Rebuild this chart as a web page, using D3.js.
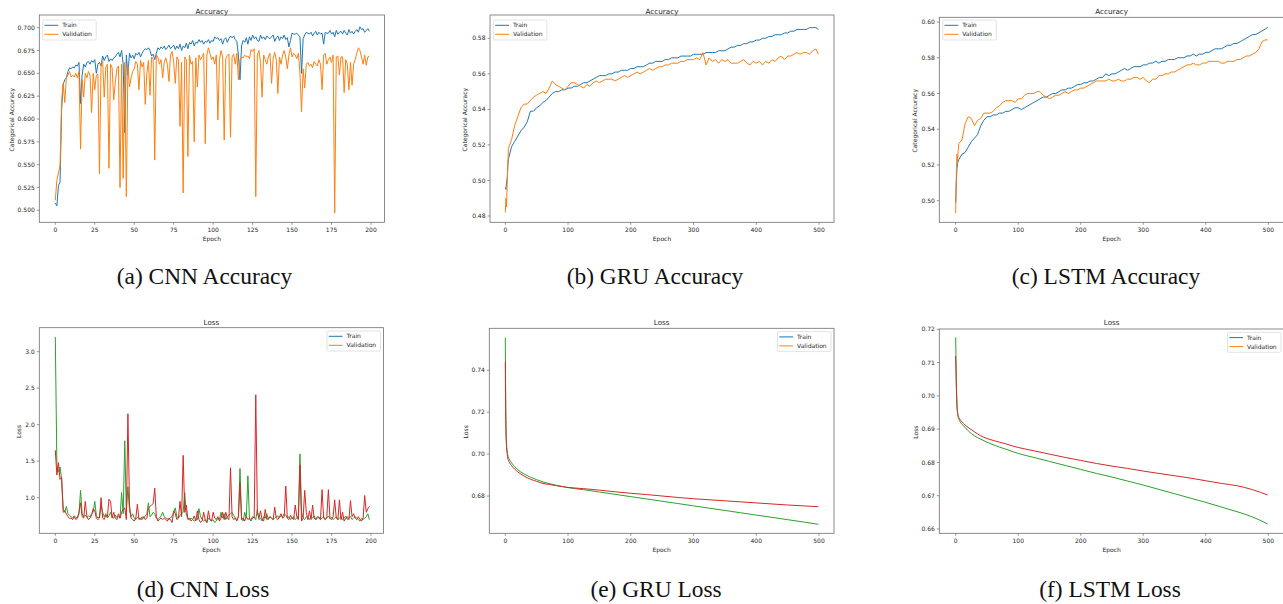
<!DOCTYPE html>
<html>
<head>
<meta charset="utf-8">
<script src="https://d3js.org/d3.v7.min.js"></script>
<style>
    body { margin: 0; background: #fff; }
    svg { display: block; }
</style>
</head>
<body>
<div id="fig"></div>
<script>
// ---- data ----
var cnnEpochs = d3.range(0, 200);
var longEpochs = [0, 1, 2, 3, 4].concat(d3.range(5, 500, 5)).concat([499]);
var lossEpochs = [0, 1, 2, 3, 4, 5, 7, 10, 15, 20, 30, 40, 50, 60, 70, 80, 90, 100,
    125, 150, 175, 200, 225, 250, 275, 300, 325, 350, 375, 400, 425, 450, 475, 499];

var cnnTrainAcc = [
    0.508, 0.505, 0.527, 0.531, 0.610, 0.638, 0.643, 0.645, 0.652, 0.656,
    0.655, 0.657, 0.656, 0.659, 0.658, 0.662, 0.617, 0.648, 0.660, 0.657,
    0.662, 0.663, 0.660, 0.664, 0.662, 0.665, 0.650, 0.660, 0.662, 0.658,
    0.669, 0.664, 0.668, 0.670, 0.663, 0.666, 0.664, 0.667, 0.668, 0.671,
    0.673, 0.668, 0.675, 0.660, 0.585, 0.670, 0.648, 0.672, 0.667, 0.670,
    0.666, 0.672, 0.670, 0.673, 0.668, 0.672, 0.675, 0.677, 0.676, 0.678,
    0.675, 0.669, 0.671, 0.665, 0.672, 0.678, 0.676, 0.679, 0.677, 0.680,
    0.676, 0.678, 0.681, 0.677, 0.679, 0.681, 0.676, 0.680, 0.677, 0.682,
    0.675, 0.680, 0.678, 0.683, 0.677, 0.684, 0.682, 0.686, 0.680, 0.684,
    0.683, 0.687, 0.684, 0.686, 0.682, 0.685, 0.684, 0.687, 0.683, 0.686,
    0.685, 0.690, 0.688, 0.689, 0.686, 0.688, 0.682, 0.687, 0.689, 0.684,
    0.688, 0.691, 0.689, 0.691, 0.687, 0.685, 0.670, 0.643, 0.680, 0.686,
    0.684, 0.689, 0.682, 0.690, 0.686, 0.692, 0.688, 0.690, 0.686, 0.685,
    0.692, 0.688, 0.690, 0.687, 0.691, 0.689, 0.688, 0.690, 0.692, 0.685,
    0.689, 0.691, 0.686, 0.690, 0.688, 0.692, 0.687, 0.689, 0.679, 0.686,
    0.694, 0.693, 0.693, 0.694, 0.692, 0.690, 0.650, 0.688, 0.692, 0.695,
    0.694, 0.693, 0.695, 0.691, 0.694, 0.696, 0.692, 0.695, 0.693, 0.694,
    0.682, 0.695, 0.694, 0.694, 0.697, 0.693, 0.695, 0.690, 0.697, 0.693,
    0.695, 0.696, 0.693, 0.697, 0.694, 0.692, 0.698, 0.694, 0.696, 0.693,
    0.696, 0.698, 0.695, 0.701, 0.698, 0.699, 0.695, 0.697, 0.699, 0.696
];
var cnnValAcc = [
    0.511, 0.533, 0.541, 0.549, 0.620, 0.639, 0.618, 0.645, 0.648, 0.652,
    0.646, 0.648, 0.646, 0.650, 0.645, 0.652, 0.567, 0.643, 0.624, 0.650,
    0.645, 0.652, 0.648, 0.607, 0.650, 0.632, 0.648, 0.649, 0.540, 0.661,
    0.663, 0.624, 0.657, 0.660, 0.546, 0.660, 0.656, 0.621, 0.640, 0.655,
    0.658, 0.525, 0.660, 0.535, 0.662, 0.515, 0.658, 0.635, 0.645, 0.652,
    0.655, 0.663, 0.660, 0.632, 0.664, 0.657, 0.662, 0.616, 0.650, 0.664,
    0.626, 0.668, 0.665, 0.555, 0.670, 0.668, 0.660, 0.665, 0.645, 0.662,
    0.667, 0.660, 0.641, 0.670, 0.674, 0.662, 0.639, 0.668, 0.665, 0.592,
    0.662, 0.519, 0.668, 0.665, 0.559, 0.670, 0.660, 0.663, 0.575, 0.667,
    0.635, 0.670, 0.665, 0.668, 0.672, 0.573, 0.670, 0.678, 0.672, 0.665,
    0.668, 0.660, 0.670, 0.599, 0.665, 0.675, 0.668, 0.577, 0.666, 0.670,
    0.671, 0.580, 0.668, 0.671, 0.660, 0.672, 0.643, 0.665, 0.668, 0.667,
    0.670, 0.668, 0.669, 0.666, 0.676, 0.674, 0.677, 0.515, 0.670, 0.675,
    0.662, 0.624, 0.670, 0.665, 0.660, 0.668, 0.672, 0.639, 0.666, 0.673,
    0.665, 0.628, 0.668, 0.660, 0.670, 0.675, 0.668, 0.655, 0.670, 0.678,
    0.668, 0.672, 0.670, 0.666, 0.672, 0.650, 0.608, 0.655, 0.634, 0.660,
    0.662, 0.658, 0.660, 0.656, 0.663, 0.660, 0.658, 0.665, 0.660, 0.632,
    0.670, 0.672, 0.660, 0.665, 0.668, 0.662, 0.670, 0.497, 0.668, 0.669,
    0.648, 0.668, 0.668, 0.629, 0.665, 0.660, 0.632, 0.662, 0.637, 0.660,
    0.665, 0.672, 0.678, 0.675, 0.668, 0.660, 0.670, 0.659, 0.668, 0.669
];

var gruTrainAcc = [
    0.496, 0.495, 0.499, 0.501, 0.508,
    0.512, 0.519, 0.522, 0.525, 0.528, 0.530, 0.533, 0.539, 0.539, 0.541,
    0.542, 0.544, 0.545, 0.547, 0.549, 0.550, 0.550, 0.551, 0.551, 0.552,
    0.552, 0.553, 0.553, 0.554, 0.555, 0.555, 0.556, 0.557, 0.558, 0.559,
    0.559, 0.559, 0.560, 0.560, 0.561, 0.561, 0.562, 0.562, 0.562, 0.563,
    0.563, 0.564, 0.564, 0.564, 0.565, 0.566, 0.566, 0.567, 0.567, 0.567,
    0.568, 0.568, 0.569, 0.569, 0.569, 0.570, 0.570, 0.570, 0.570, 0.571,
    0.571, 0.571, 0.571, 0.572, 0.572, 0.572, 0.572, 0.573, 0.573, 0.573,
    0.574, 0.575, 0.575, 0.576, 0.576, 0.577, 0.577, 0.578, 0.578, 0.579,
    0.579, 0.580, 0.580, 0.581, 0.581, 0.582, 0.582, 0.582, 0.583, 0.583,
    0.584, 0.584, 0.585, 0.585, 0.585, 0.585, 0.586, 0.586, 0.586,
    0.585
];
var gruValAcc = [
    0.482, 0.490, 0.485, 0.498, 0.508,
    0.518, 0.523, 0.531, 0.536, 0.541, 0.543, 0.543, 0.545, 0.547, 0.548,
    0.549, 0.550, 0.549, 0.552, 0.556, 0.554, 0.553, 0.552, 0.551, 0.553,
    0.555, 0.555, 0.554, 0.553, 0.552, 0.554, 0.553, 0.555, 0.556, 0.555,
    0.556, 0.557, 0.557, 0.557, 0.556, 0.557, 0.558, 0.559, 0.558, 0.559,
    0.560, 0.561, 0.560, 0.561, 0.562, 0.563, 0.562, 0.563, 0.564, 0.564,
    0.565, 0.565, 0.566, 0.566, 0.566, 0.567, 0.567, 0.568, 0.568, 0.568,
    0.569, 0.568, 0.572, 0.565, 0.569, 0.567, 0.568, 0.566, 0.568, 0.567,
    0.568, 0.566, 0.566, 0.566, 0.567, 0.568, 0.566, 0.565, 0.567, 0.566,
    0.567, 0.565, 0.567, 0.566, 0.568, 0.567, 0.569, 0.570, 0.568, 0.570,
    0.570, 0.571, 0.572, 0.571, 0.572, 0.572, 0.571, 0.573, 0.574,
    0.571
];
var lstmTrainAcc = [
    0.499, 0.510, 0.518, 0.521, 0.522,
    0.523, 0.526, 0.527, 0.530, 0.533, 0.535, 0.537, 0.542, 0.545, 0.547,
    0.547, 0.548, 0.548, 0.549, 0.549, 0.550, 0.550, 0.551, 0.552, 0.552,
    0.551, 0.552, 0.553, 0.554, 0.555, 0.556, 0.557, 0.558, 0.558, 0.559,
    0.560, 0.560, 0.561, 0.562, 0.562, 0.563, 0.563, 0.564, 0.565, 0.565,
    0.566, 0.566, 0.567, 0.567, 0.568, 0.569, 0.569, 0.571, 0.570, 0.571,
    0.571, 0.572, 0.573, 0.574, 0.573, 0.574, 0.575, 0.575, 0.575, 0.576,
    0.576, 0.577, 0.577, 0.578, 0.577, 0.578, 0.578, 0.579, 0.579, 0.579,
    0.580, 0.580, 0.580, 0.581, 0.581, 0.582, 0.581, 0.582, 0.582, 0.583,
    0.583, 0.584, 0.585, 0.585, 0.585, 0.586, 0.587, 0.587, 0.588, 0.588,
    0.589, 0.590, 0.591, 0.592, 0.593, 0.593, 0.594, 0.595, 0.596,
    0.597
];
var lstmValAcc = [
    0.493, 0.515, 0.526, 0.522, 0.528,
    0.532, 0.534, 0.543, 0.547, 0.546, 0.542, 0.545, 0.546, 0.549, 0.549,
    0.549, 0.550, 0.552, 0.553, 0.555, 0.556, 0.556, 0.556, 0.555, 0.557,
    0.557, 0.559, 0.560, 0.560, 0.560, 0.561, 0.561, 0.559, 0.558, 0.557,
    0.558, 0.559, 0.559, 0.560, 0.561, 0.560, 0.561, 0.562, 0.562, 0.563,
    0.563, 0.564, 0.565, 0.566, 0.567, 0.567, 0.567, 0.567, 0.568, 0.567,
    0.567, 0.568, 0.567, 0.567, 0.568, 0.568, 0.569, 0.569, 0.568, 0.569,
    0.567, 0.566, 0.568, 0.568, 0.570, 0.570, 0.571, 0.571, 0.572, 0.572,
    0.573, 0.574, 0.575, 0.576, 0.576, 0.577, 0.576, 0.576, 0.577, 0.577,
    0.578, 0.578, 0.578, 0.578, 0.577, 0.577, 0.578, 0.578, 0.578, 0.579,
    0.579, 0.580, 0.581, 0.581, 0.582, 0.583, 0.585, 0.589, 0.590,
    0.590
];

var cnnTrainLoss = [
    3.20, 1.45, 1.35, 1.42, 1.25, 0.85, 0.80, 0.88, 0.78, 0.76,
    0.74, 0.72, 0.75, 0.73, 0.72, 0.78, 1.10, 0.78, 0.74, 0.76,
    0.73, 0.75, 0.74, 0.78, 0.80, 0.95, 0.76, 0.72, 0.74, 0.90,
    0.80, 0.74, 0.78, 0.72, 0.75, 0.80, 0.73, 0.72, 0.76, 0.73,
    0.74, 0.72, 1.07, 0.78, 1.78, 0.80, 1.15, 0.82, 0.74, 0.78,
    0.72, 0.70, 0.73, 0.72, 0.70, 0.74, 0.72, 0.75, 0.78, 0.93,
    0.74, 0.76, 0.80, 0.78, 0.72, 0.70, 0.72, 0.75, 0.80, 0.74,
    0.72, 0.71, 0.70, 0.72, 0.75, 0.80, 0.86, 0.74, 0.72, 0.76,
    0.78, 0.80, 1.07, 0.76, 0.72, 0.70, 0.72, 0.70, 0.68, 0.70,
    0.70, 0.85, 0.74, 0.70, 0.68, 0.70, 0.66, 0.72, 0.70, 0.68,
    0.70, 0.66, 0.68, 0.72, 0.70, 0.80, 0.72, 0.78, 0.70, 0.74,
    0.76, 0.78, 0.80, 0.76, 0.72, 0.70, 0.74, 1.40, 0.72, 0.68,
    0.80, 0.72, 1.30, 0.70, 0.68, 0.72, 0.74, 0.70, 0.84, 0.70,
    0.72, 0.68, 0.74, 0.72, 0.78, 0.70, 0.74, 0.72, 0.70, 0.72,
    0.74, 0.75, 0.72, 0.76, 0.74, 0.78, 0.76, 0.72, 0.74, 0.70,
    0.72, 0.74, 0.70, 0.72, 0.76, 1.60, 0.80, 0.72, 0.70, 0.74,
    0.72, 0.70, 0.74, 0.72, 0.75, 0.70, 0.72, 0.74, 0.70, 0.72,
    0.74, 0.70, 0.72, 0.75, 0.71, 0.73, 0.70, 0.72, 0.74, 0.70,
    0.72, 0.74, 0.70, 0.72, 0.75, 0.70, 0.72, 0.74, 0.70, 0.72,
    0.74, 0.72, 0.70, 0.68, 0.72, 0.70, 0.72, 0.74, 0.78, 0.70
];
var cnnValLoss = [
    1.65, 1.31, 1.48, 1.25, 1.28, 0.80, 0.82, 0.78, 0.74, 0.72,
    0.72, 0.70, 0.74, 0.70, 0.72, 0.80, 0.93, 0.74, 0.72, 0.95,
    0.74, 0.70, 0.72, 0.76, 0.85, 0.82, 0.72, 0.70, 0.72, 1.00,
    0.72, 0.70, 0.76, 0.74, 0.98, 0.95, 0.72, 0.80, 0.72, 0.70,
    0.78, 0.72, 0.80, 0.84, 0.86, 0.70, 2.15, 0.90, 0.72, 0.70,
    0.68, 0.72, 0.91, 0.70, 0.72, 0.70, 0.74, 0.70, 0.72, 0.86,
    0.88, 0.90, 0.92, 1.13, 0.74, 0.68, 0.70, 0.72, 0.70, 0.72,
    0.70, 0.68, 0.72, 0.70, 0.66, 0.82, 0.78, 0.70, 0.72, 0.95,
    0.74, 1.58, 0.80, 0.90, 0.70, 0.72, 0.68, 0.70, 0.75, 0.68,
    0.82, 0.70, 0.66, 0.68, 0.80, 0.70, 0.66, 0.82, 0.70, 0.68,
    0.80, 0.72, 0.70, 0.74, 0.68, 0.72, 0.80, 0.70, 0.80, 0.72,
    0.70, 1.41, 0.74, 0.70, 0.72, 0.68, 0.74, 1.20, 0.70, 0.72,
    0.68, 0.74, 0.70, 0.72, 0.70, 0.74, 0.72, 2.41, 0.80, 0.72,
    0.82, 0.70, 0.68, 0.84, 0.70, 0.72, 0.74, 0.72, 0.70, 0.87,
    0.72, 0.70, 0.74, 0.78, 0.72, 0.74, 1.16, 0.72, 0.70, 0.76,
    0.72, 0.70, 0.90, 0.74, 0.70, 1.45, 0.68, 0.72, 1.10, 0.80,
    0.70, 0.82, 0.70, 0.90, 0.72, 0.70, 0.74, 0.72, 0.70, 1.11,
    0.72, 0.70, 0.74, 1.11, 0.72, 0.70, 0.74, 0.97, 0.72, 0.70,
    0.97, 0.70, 0.80, 0.68, 0.72, 0.74, 0.70, 0.96, 0.74, 0.78,
    0.72, 0.70, 0.74, 0.70, 0.68, 0.72, 1.03, 0.80, 0.85, 0.88
];

var gruTrainLoss = [0.7555, 0.715, 0.705, 0.7015, 0.6995, 0.6985, 0.6972, 0.6958, 0.694, 0.6925,
    0.6905, 0.689, 0.6878, 0.6867, 0.6859, 0.6852, 0.6846, 0.6840, 0.6830, 0.6819,
    0.6808, 0.6797, 0.6786, 0.6775, 0.6764, 0.6753, 0.6742, 0.6731, 0.6720, 0.6709,
    0.6698, 0.6687, 0.6676, 0.6665];
var gruValLoss = [0.744, 0.712, 0.703, 0.700, 0.698, 0.697, 0.6958, 0.6945, 0.6928, 0.6915,
    0.6895, 0.688, 0.687, 0.686, 0.6855, 0.685, 0.6845, 0.6841, 0.6835, 0.6828,
    0.6820, 0.6813, 0.6807, 0.6800, 0.6793, 0.6787, 0.6782, 0.6777, 0.6772, 0.6767,
    0.6762, 0.6757, 0.6753, 0.6749];
var lstmTrainLoss = [0.7176, 0.705, 0.698, 0.695, 0.6935, 0.693, 0.6922, 0.6915, 0.6905, 0.6895,
    0.6880, 0.6870, 0.6861, 0.6853, 0.6846, 0.6840, 0.6833, 0.6827, 0.6815, 0.6803,
    0.6791, 0.6779, 0.6767, 0.6756, 0.6744, 0.6732, 0.6719, 0.6706, 0.6693, 0.6680,
    0.6666, 0.6652, 0.6636, 0.6615];
var lstmValLoss = [0.712, 0.703, 0.697, 0.695, 0.694, 0.6935, 0.6928, 0.6922, 0.6912, 0.6905,
    0.6892, 0.6880, 0.6872, 0.6866, 0.6861, 0.6856, 0.6850, 0.6845, 0.6835, 0.6825,
    0.6815, 0.6806, 0.6797, 0.6789, 0.6782, 0.6774, 0.6767, 0.6760, 0.6753, 0.6745,
    0.6737, 0.6730, 0.6718, 0.6702];

var legendNames = ["Train", "Validation"];
var cnnXTicks = d3.range(0, 201, 25);
var longXTicks = d3.range(0, 501, 100);
var captions = ["(a) CNN Accuracy", "(b) GRU Accuracy", "(c) LSTM Accuracy",
    "(d) CNN Loss", "(e) GRU Loss", "(f) LSTM Loss"];

// ---- drawing ----
var W = 1283, H = 604;
var svg = d3.select("#fig").append("svg")
    .attr("width", W)
    .attr("height", H);

var blue = "#1f77b4", orange = "#ff7f0e", green = "#2ca02c", red = "#d62728";
var textCol = "#262626", spineCol = "#6e6e6e";
var sans = "'DejaVu Sans', sans-serif";

function zip(xs, ys) {
    return xs.map(function(x, i) { return [x, ys[i]]; });
}

function drawPanel(p) {
    var g = svg.append("g");
    var x = d3.scaleLinear().domain(p.xDom).range(p.xPx);
    var y = d3.scaleLinear().domain(p.yDom).range(p.yPx);
    var b = p.box;

    var clipId = "clip" + p.id;
    svg.append("clipPath").attr("id", clipId)
        .append("rect")
        .attr("x", b.l).attr("y", b.t)
        .attr("width", b.r - b.l).attr("height", b.b - b.t);

    var line = d3.line()
        .x(function(d) { return x(d[0]); })
        .y(function(d) { return y(d[1]); });
    if (p.smooth) line.curve(d3.curveMonotoneX);

    var lines = g.append("g").attr("clip-path", "url(#" + clipId + ")");
    p.series.forEach(function(s) {
        lines.append("path")
            .datum(zip(p.epochs, s.values))
            .attr("d", line)
            .attr("fill", "none")
            .attr("stroke", s.color)
            .attr("stroke-width", 1)
            .attr("stroke-linejoin", "round");
    });

    // spines
    g.append("rect")
        .attr("x", b.l).attr("y", b.t)
        .attr("width", b.r - b.l).attr("height", b.b - b.t)
        .attr("fill", "none")
        .attr("stroke", spineCol)
        .attr("stroke-width", 0.8);

    // x ticks
    var xt = g.selectAll(".xt").data(p.xTicks).enter().append("g")
        .attr("transform", function(d) { return "translate(" + x(d) + "," + b.b + ")"; });
    xt.append("line").attr("y2", 2.5).attr("stroke", spineCol).attr("stroke-width", 0.7);
    xt.append("text")
        .attr("y", 10)
        .attr("text-anchor", "middle")
        .style("font", "6px " + sans)
        .attr("fill", textCol)
        .text(function(d) { return d; });

    // y ticks
    var yt = g.selectAll(".yt").data(p.yTicks).enter().append("g")
        .attr("transform", function(d) { return "translate(" + b.l + "," + y(d) + ")"; });
    yt.append("line").attr("x2", -2.5).attr("stroke", spineCol).attr("stroke-width", 0.7);
    yt.append("text")
        .attr("x", -4.5)
        .attr("dy", "0.35em")
        .attr("text-anchor", "end")
        .style("font", "6px " + sans)
        .attr("fill", textCol)
        .text(function(d) { return d3.format(p.yFmt)(d); });

    // title + axis labels
    g.append("text")
        .attr("x", (b.l + b.r) / 2)
        .attr("y", p.titleY)
        .attr("text-anchor", "middle")
        .style("font", "7.2px " + sans)
        .attr("fill", textCol)
        .text(p.title);
    g.append("text")
        .attr("x", (b.l + b.r) / 2)
        .attr("y", b.b + 18.5)
        .attr("text-anchor", "middle")
        .style("font", "6px " + sans)
        .attr("fill", textCol)
        .text("Epoch");
    g.append("text")
        .attr("transform", "translate(" + p.yLabX + "," + ((b.t + b.b) / 2 + 1) + ") rotate(-90)")
        .attr("dy", "0.35em")
        .attr("text-anchor", "middle")
        .style("font", "6px " + sans)
        .attr("fill", textCol)
        .text(p.yLabel);

    // legend (always blue / orange swatches)
    var lw = 53.5, lh = 20;
    var lx = p.legendRight ? b.r - 3 - lw : b.l + 3.4;
    var ly = p.legendRight ? b.t + 3.3 : 20;
    var leg = g.append("g").attr("transform", "translate(" + lx + "," + ly + ")");
    leg.append("rect")
        .attr("width", lw).attr("height", lh)
        .attr("rx", 1.5)
        .attr("fill", "white").attr("fill-opacity", 0.85)
        .attr("stroke", "#d0d0d0").attr("stroke-width", 0.6);
    var ents = leg.selectAll("g").data(legendNames).enter().append("g")
        .attr("transform", function(d, i) { return "translate(0," + (5.3 + 9 * i) + ")"; });
    ents.append("line")
        .attr("x1", 1.8).attr("x2", 15.6)
        .attr("stroke", function(d, i) { return i === 0 ? blue : orange; })
        .attr("stroke-width", 1);
    ents.append("text")
        .attr("x", 19.5)
        .attr("dy", "0.35em")
        .style("font", "6px " + sans)
        .attr("fill", textCol)
        .text(function(d) { return d; });
}

var panels = [
    {id: "a", title: "Accuracy", titleY: 13.5, box: {l: 39.3, t: 15, r: 384.5, b: 222.3},
     xDom: [0, 200], xPx: [55.3, 371], yDom: [0.5, 0.7], yPx: [210.3, 27.7],
     xTicks: cnnXTicks, yTicks: d3.range(0, 9).map(function(i) { return 0.5 + 0.025 * i; }), yFmt: ".3f",
     yLabel: "Categorical Accuracy", yLabX: 11.7, epochs: cnnEpochs,
     series: [{values: cnnTrainAcc, color: blue}, {values: cnnValAcc, color: orange}]},
    {id: "b", title: "Accuracy", titleY: 13.5, box: {l: 490, t: 15, r: 834, b: 222.3},
     xDom: [0, 500], xPx: [505.3, 819], yDom: [0.48, 0.58], yPx: [216, 38.3],
     xTicks: longXTicks, yTicks: d3.range(0, 6).map(function(i) { return 0.48 + 0.02 * i; }), yFmt: ".2f",
     yLabel: "Categorical Accuracy", yLabX: 465, epochs: longEpochs,
     series: [{values: gruTrainAcc, color: blue}, {values: gruValAcc, color: orange}]},
    {id: "c", title: "Accuracy", titleY: 13.5, box: {l: 939.3, t: 17.3, r: 1284, b: 222.3},
     xDom: [0, 500], xPx: [955.7, 1268.3], yDom: [0.5, 0.6], yPx: [200.7, 22],
     xTicks: longXTicks, yTicks: d3.range(0, 6).map(function(i) { return 0.5 + 0.02 * i; }), yFmt: ".2f",
     yLabel: "Categorical Accuracy", yLabX: 915, epochs: longEpochs,
     series: [{values: lstmTrainAcc, color: blue}, {values: lstmValAcc, color: orange}]},
    {id: "d", title: "Loss", titleY: 324.5, box: {l: 39.3, t: 327.7, r: 383.5, b: 533.3},
     xDom: [0, 200], xPx: [55.3, 371], yDom: [1, 3], yPx: [497.7, 351.7],
     xTicks: cnnXTicks, yTicks: [1.0, 1.5, 2.0, 2.5, 3.0], yFmt: ".1f",
     yLabel: "Loss", yLabX: 19.3, epochs: cnnEpochs, legendRight: true,
     series: [{values: cnnTrainLoss, color: green}, {values: cnnValLoss, color: red}]},
    {id: "e", title: "Loss", titleY: 324.5, box: {l: 489.3, t: 328.3, r: 834, b: 533.3},
     xDom: [0, 500], xPx: [505.3, 819], yDom: [0.68, 0.74], yPx: [496, 370.3],
     xTicks: longXTicks, yTicks: [0.68, 0.70, 0.72, 0.74], yFmt: ".2f",
     yLabel: "Loss", yLabX: 465.7, epochs: lossEpochs, legendRight: true, smooth: true,
     series: [{values: gruTrainLoss, color: green}, {values: gruValLoss, color: red}]},
    {id: "f", title: "Loss", titleY: 324.5, box: {l: 939.3, t: 329, r: 1284, b: 533.3},
     xDom: [0, 500], xPx: [955.7, 1268.3], yDom: [0.66, 0.72], yPx: [529, 329.3],
     xTicks: longXTicks, yTicks: d3.range(0, 7).map(function(i) { return 0.66 + 0.01 * i; }), yFmt: ".2f",
     yLabel: "Loss", yLabX: 915.7, epochs: lossEpochs, legendRight: true, smooth: true,
     series: [{values: lstmTrainLoss, color: green}, {values: lstmValLoss, color: red}]}
];

panels.forEach(drawPanel);

// sub-figure captions
var capX = [204.5, 655, 1106, 203, 656, 1110];
var capY = [284.3, 284.3, 284.3, 597, 597, 597];
svg.selectAll(".cap").data(captions).enter().append("text")
    .attr("x", function(d, i) { return capX[i]; })
    .attr("y", function(d, i) { return capY[i]; })
    .attr("text-anchor", "middle")
    .style("font", "23.4px 'Liberation Serif', 'Times New Roman', serif")
    .attr("fill", "#111")
    .text(function(d) { return d; });
</script>
</body>
</html>
